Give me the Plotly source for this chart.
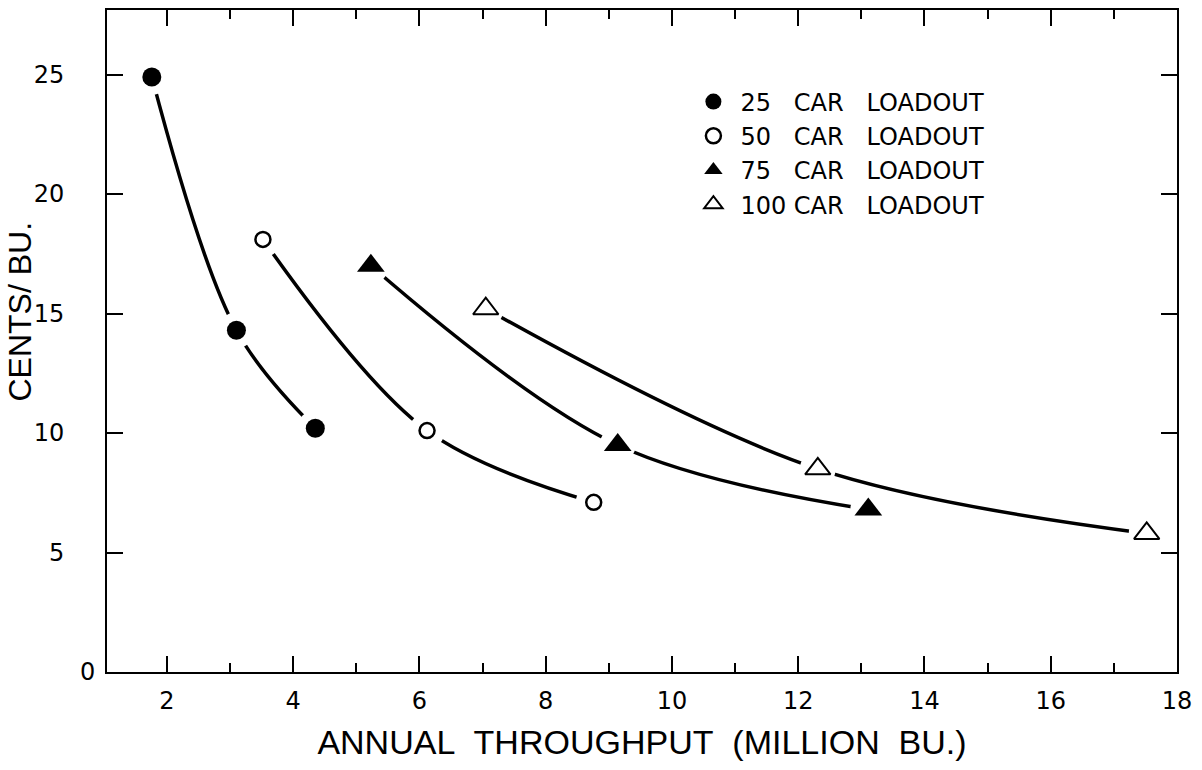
import plotly.graph_objects as go

# Annual throughput (million bu.) and cost (cents/bu.) for each loadout size
x_25 = [1.76, 3.10, 4.35]
y_25 = [24.9, 14.3, 10.2]
x_50 = [3.52, 6.12, 8.76]
y_50 = [18.1, 10.1, 7.1]
x_75 = [5.23, 9.14, 13.11]
y_75 = [17.0, 9.5, 6.8]
x_100 = [7.05, 12.31, 17.52]
y_100 = [15.2, 8.5, 5.8]

NB = "\u00a0"
GAP = NB * 2 + " "
series_names = [
    f"25{GAP}CAR{GAP}LOADOUT",
    f"50{GAP}CAR{GAP}LOADOUT",
    f"75{GAP}CAR{GAP}LOADOUT",
    f"100 CAR{GAP}LOADOUT",
]

x_tick_vals = [2, 4, 6, 8, 10, 12, 14, 16, 18]
y_tick_vals = [0, 5, 10, 15, 20, 25]
# the zero label sits next to the corner, so it is drawn separately
y_tick_text = ["", "5", "10", "15", "20", "25"]

series = [(x_25, y_25), (x_50, y_50), (x_75, y_75), (x_100, y_100)]
marker_styles = [
    dict(symbol="circle", size=19, color="black", line=dict(color="black", width=0)),
    dict(symbol="circle", size=15, color="white", line=dict(color="black", width=2.5)),
    dict(symbol="triangle-up", size=24, color="black", line=dict(color="black", width=0)),
    dict(symbol="triangle-up", size=22, color="white", line=dict(color="black", width=2)),
]

fig = go.Figure()

# smooth fitted curves
for xs, ys in series:
    fig.add_trace(go.Scatter(
        x=xs, y=ys, mode="lines",
        line=dict(color="black", width=3.5, shape="spline", smoothing=1.0),
        showlegend=False, hoverinfo="skip",
    ))

# white halos so each curve stops short of its markers
for xs, ys in series:
    fig.add_trace(go.Scatter(
        x=xs, y=ys, mode="markers",
        marker=dict(symbol="circle", size=36, color="white"),
        showlegend=False, hoverinfo="skip",
    ))

# data markers
for (xs, ys), name, style in zip(series, series_names, marker_styles):
    fig.add_trace(go.Scatter(
        x=xs, y=ys, mode="markers", name=name, marker=style,
    ))

tick_font = dict(family="DejaVu Sans", size=24, color="black")
title_font = dict(family="Liberation Sans, Arial", size=34, color="black")

fig.update_layout(
    width=1202, height=770,
    margin=dict(l=107, r=25, t=8, b=98),
    paper_bgcolor="white", plot_bgcolor="white",
    xaxis=dict(
        range=[1.05, 18.0], tickvals=x_tick_vals,
        ticks="inside", ticklen=16, tickwidth=2, tickcolor="black",
        minor=dict(dtick=1, tick0=0, ticks="inside", ticklen=9, tickwidth=2, tickcolor="black"),
        showline=True, linewidth=2, linecolor="black", mirror="ticks",
        showgrid=False, zeroline=False, tickfont=tick_font, ticklabelstandoff=6,
        title=dict(text=f"ANNUAL{NB} THROUGHPUT{NB} (MILLION{NB} BU.)", font=title_font, standoff=16),
    ),
    yaxis=dict(
        range=[0, 27.7], tickvals=y_tick_vals, ticktext=y_tick_text,
        ticks="inside", ticklen=16, tickwidth=2, tickcolor="black",
        showline=True, linewidth=2, linecolor="black", mirror="ticks",
        showgrid=False, zeroline=False, tickfont=tick_font, ticklabelstandoff=36,
    ),
    legend=dict(
        x=0.5415, y=0.895, xanchor="left", yanchor="top",
        font=dict(family="DejaVu Sans", size=24, color="black"),
        bgcolor="rgba(0,0,0,0)", itemwidth=44, tracegroupgap=0,
    ),
    annotations=[
        dict(
            text="CENTS/ BU.", textangle=-90, showarrow=False,
            xref="paper", yref="paper", x=-0.081, y=0.545,
            xanchor="center", yanchor="middle",
            font=dict(family="Liberation Sans, Arial", size=32, color="black"),
        ),
        dict(
            text="0", showarrow=False,
            xref="paper", yref="y", x=-0.018, y=y_tick_vals[0],
            xanchor="center", yanchor="middle", font=tick_font,
        ),
    ],
)

fig.write_html("out.html")
